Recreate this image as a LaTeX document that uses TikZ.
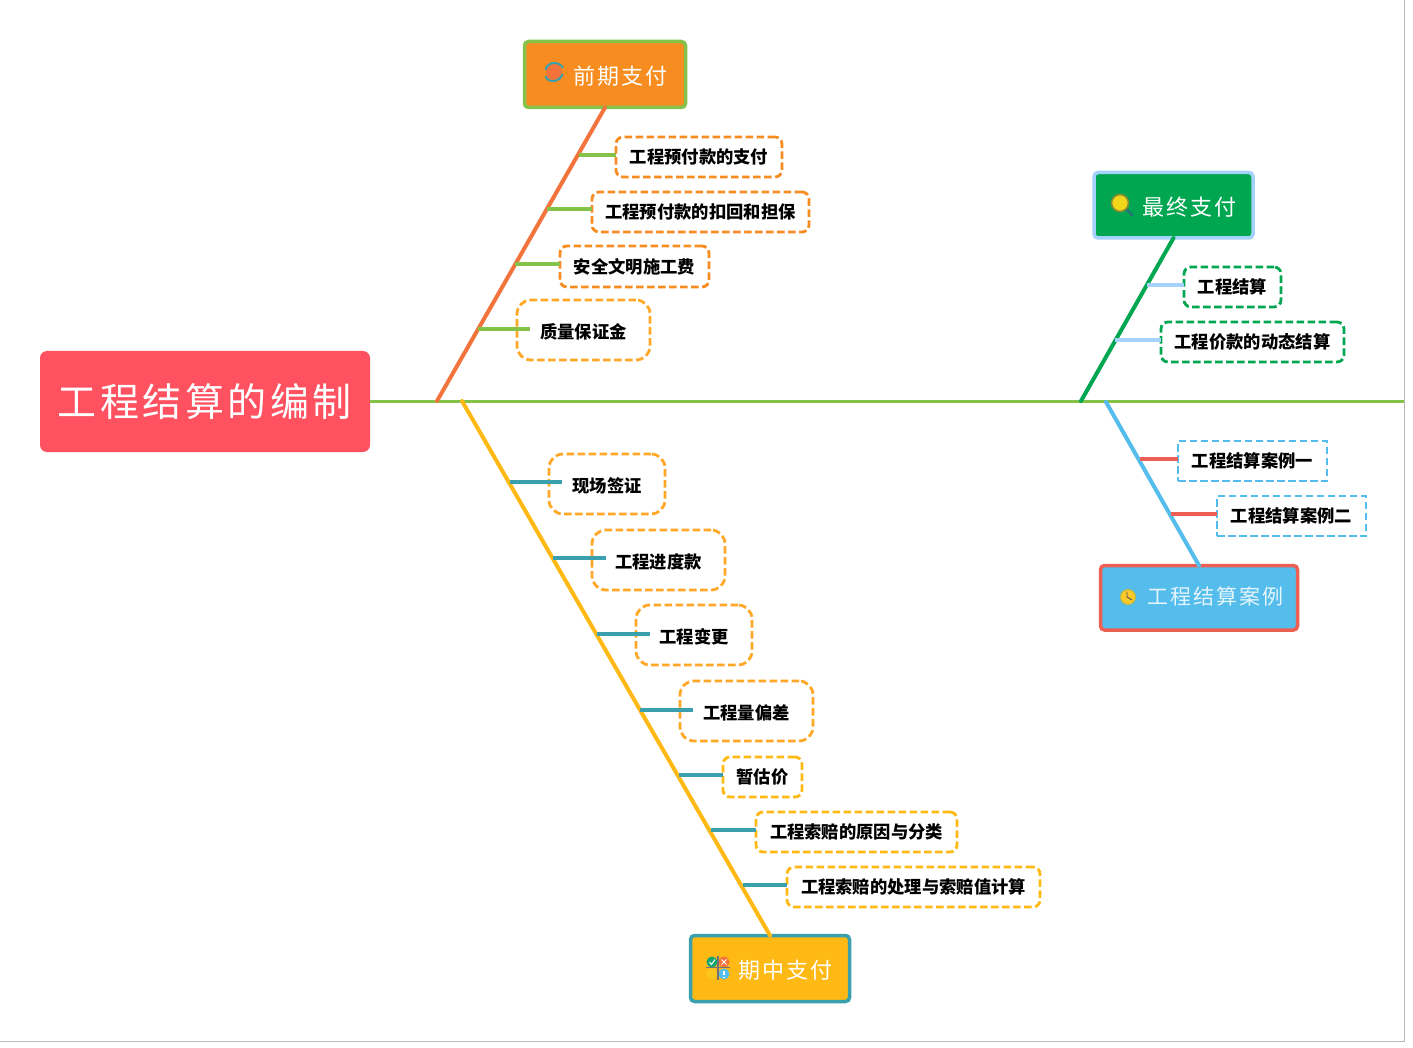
\documentclass[tikz,border=0pt]{standalone}
\usepackage{fontspec}
\newfontfamily\cjk{Noto Sans CJK SC}
\newfontfamily\cjkwide[LetterSpace=9]{Noto Sans CJK SC}
\usetikzlibrary{calc}
\definecolor{rootred}{HTML}{FF5160}
\definecolor{maingreen}{HTML}{84C24A}
\definecolor{topor}{HTML}{F78D20}
\definecolor{boneor}{HTML}{F2743C}
\definecolor{softor}{HTML}{FFA726}
\definecolor{midyel}{HTML}{FFB915}
\definecolor{teal}{HTML}{3AA0AE}
\definecolor{fingreen}{HTML}{00A650}
\definecolor{palebl}{HTML}{A5D2FB}
\definecolor{casebl}{HTML}{55BDEB}
\definecolor{casered}{HTML}{EC5F52}
\tikzset{
  x=1pt,y=-1pt,
  rootbox/.style={fill=rootred,rounded corners=7pt,text=white,inner sep=0pt,outer sep=0pt,font=\fontsize{39}{42}\selectfont\cjkwide},
  topicbox/.style={line width=3.5pt,rounded corners=4pt,text=white,inner sep=0pt,outer sep=0pt,text height=22pt,text depth=1.2pt,font=\fontsize{22}{26}\selectfont\cjkwide},
  leafbox/.style={draw=#1,line width=2.8pt,rounded corners=7pt,dash pattern=on 7.5pt off 3.5pt,inner sep=0pt,outer sep=0pt,font=\fontsize{17.3}{20}\selectfont\cjk\bfseries,text=black},
  bigleaf/.style={leafbox=#1,rounded corners=14pt,text height=19pt,text depth=3pt},
  bone/.style={line width=#1,line cap=round},
  twig/.style={line width=4pt,draw=#1}
}
\newcommand{\boxat}[7]{\node[#1,minimum width=#5pt-#3pt,minimum height=#6pt-#4pt,anchor=north west] (#2) at (#3,#4) {#7};}
\begin{document}
\begin{tikzpicture}
\useasboundingbox (0,0) rectangle (1413,1048);
\fill[white] (0,0) rectangle (1413,1048);
\draw[gray!55,line width=1pt] (1404.5,0) -- (1404.5,1041.5) -- (0,1041.5);

% main
\boxat{rootbox}{root}{40}{351}{370}{452}{工程结算的编制}
\coordinate (mainend) at (1404,401.5);
\draw[maingreen,line width=3pt] (root.east |- mainend) -- (mainend);

% spine joints
\coordinate (s1) at (437,401);
\coordinate (s2) at (462,401);
\coordinate (s3) at (1081,401);
\coordinate (s4) at (1106,402);

% topics
\boxat{topicbox,draw=maingreen,fill=topor}{t1}{524.5}{41.5}{685.5}{107.5}{\hspace*{31pt}前期支付}
\boxat{topicbox,draw=teal,fill=midyel}{t2}{690.5}{935.5}{849.5}{1001.5}{\hspace*{31pt}期中支付}
\boxat{topicbox,draw=palebl,fill=fingreen}{t3}{1094}{172.5}{1253}{238}{\hspace*{32pt}最终支付}
\boxat{topicbox,draw=casered,fill=casebl,text=white!85!casebl,font=\fontsize{21}{26}\selectfont\cjkwide,text height=14pt,text depth=1pt}{t4}{1100.5}{565.5}{1297.5}{630}{\hspace*{33pt}工程结算案例}

% bones
\draw[bone=4pt,boneor] (s1) -- (t1.south);
\draw[bone=4pt,midyel] (s2) -- (t2.north);
\draw[bone=4pt,fingreen] (s3) -- (t3.south);
\draw[bone=4pt,casebl] (s4) -- (t4.north);

% leaves: top left
\boxat{leafbox=topor}{a1}{616}{137}{782}{177}{工程预付款的支付}
\boxat{leafbox=topor}{a2}{592}{192}{809}{232}{工程预付款的扣回和担保}
\boxat{leafbox=topor}{a3}{560}{246}{709}{287}{安全文明施工费}
\boxat{bigleaf=softor,text height=21pt}{a4}{517}{300}{650}{360}{质量保证金}
\coordinate (ka1) at (579,155);
\coordinate (ka2) at (547,209);
\coordinate (ka3) at (515,264);
\coordinate (ka4) at (478,329);
\coordinate (ea4) at (530,329);
\draw[twig=maingreen] (ka1) -- (ka1 -| a1.west);
\draw[twig=maingreen] (ka2) -- (ka2 -| a2.west);
\draw[twig=maingreen] (ka3) -- (ka3 -| a3.west);
\draw[twig=maingreen] (ka4) -- (ea4);

% leaves: lower
\boxat{bigleaf=softor}{b1}{549}{454}{665}{514}{现场签证}
\boxat{bigleaf=softor}{b2}{592}{530}{725}{590}{工程进度款}
\boxat{bigleaf=softor}{b3}{636}{605}{752}{665}{工程变更}
\boxat{bigleaf=softor}{b4}{680}{681}{813}{741}{工程量偏差}
\boxat{leafbox=midyel}{b5}{723}{757}{802}{797}{暂估价}
\boxat{leafbox=midyel}{b6}{756}{812}{957}{852}{工程索赔的原因与分类}
\boxat{leafbox=midyel}{b7}{787}{867}{1040}{907}{工程索赔的处理与索赔值计算}
\coordinate (kb1) at (510,482); \coordinate (eb1) at (562,482);
\coordinate (kb2) at (553,558); \coordinate (eb2) at (606,558);
\coordinate (kb3) at (597,634); \coordinate (eb3) at (650,634);
\coordinate (kb4) at (640,710); \coordinate (eb4) at (693,710);
\coordinate (kb5) at (679,775);
\coordinate (kb6) at (711,830);
\coordinate (kb7) at (743,885);
\draw[twig=teal] (kb1) -- (eb1);
\draw[twig=teal] (kb2) -- (eb2);
\draw[twig=teal] (kb3) -- (eb3);
\draw[twig=teal] (kb4) -- (eb4);
\draw[twig=teal] (kb5) -- (kb5 -| b5.west);
\draw[twig=teal] (kb6) -- (kb6 -| b6.west);
\draw[twig=teal] (kb7) -- (kb7 -| b7.west);

% leaves: right top
\boxat{leafbox=fingreen}{c1}{1184}{267}{1281}{307}{工程结算}
\boxat{leafbox=fingreen}{c2}{1161}{322}{1344}{362}{工程价款的动态结算}
\coordinate (kc1) at (1147,285);
\coordinate (kc2) at (1115,340);
\draw[twig=palebl] (kc1) -- (kc1 -| c1.west);
\draw[twig=palebl] (kc2) -- (kc2 -| c2.west);

% leaves: right bottom
\boxat{leafbox=casebl,rounded corners=0pt}{d1}{1178}{441}{1327}{481}{工程结算案例一}
\boxat{leafbox=casebl,rounded corners=0pt}{d2}{1217}{496}{1366}{536}{工程结算案例二}
\coordinate (kd1) at (1140,459);
\coordinate (kd2) at (1171,514);
\draw[twig=casered] (kd1) -- (kd1 -| d1.west);
\draw[twig=casered] (kd2) -- (kd2 -| d2.west);

% icon: refresh
\fill[boneor] (554,72) circle (8);
\draw[teal,line width=2pt] (545.5,70) .. controls (547,61) and (560,61) .. (563,68);
\draw[teal,line width=2pt] (545.5,76) .. controls (547,83) and (560,83) .. (562.5,74);

% icon: magnifier
\draw[teal!70!black,line width=2.4pt,line cap=round] (1126,209) -- (1132,215);
\fill[yellow!80!orange!90!gray,draw=olive!70!teal,line width=1.6pt] (1120,203) circle (8.5);

% icon: clock
\fill[yellow!55!orange!85!white,draw=olive!60!white,line width=1pt] (1128,597) circle (7.5);
\draw[black!70,line width=.9pt] (1127,591.5) -- (1127,597) -- (1132,600);

% icon: matrix
\fill[fingreen!70!teal] (712,962) circle (5.5);
\fill[boneor] (724,962) circle (5.5);
\fill[yellow!40!softor] (712,974) circle (5.5);
\fill[casebl] (724,974) circle (5.5);
\draw[white,line width=1pt] (709.5,962) -- (711.5,964.5) -- (715,959.5);
\draw[white,line width=1pt] (721.5,959.5) -- (726.5,964.5) (726.5,959.5) -- (721.5,964.5);
\draw[white,line width=1.2pt] (724,970.5) -- (724,975) (724,976.5) -- (724,978);
\draw[black!55,line width=1.2pt] (706,967.5) -- (730,967.5) (718,956) -- (718,980);
\end{tikzpicture}
\end{document}
